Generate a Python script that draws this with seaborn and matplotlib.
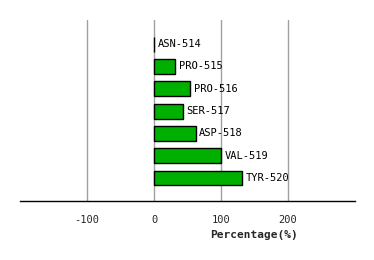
import matplotlib
matplotlib.use("Agg")
import matplotlib.pyplot as plt
import seaborn as sns
import pandas as pd

residues = ["ASN-514", "PRO-515", "PRO-516", "SER-517", "ASP-518", "VAL-519", "TYR-520"]
percentages = [0.5, 32, 54, 43, 62, 100, 132]
xticks = [-100, 0, 100, 200]

df = pd.DataFrame({"residue": residues, "pct": percentages})

sns.set_style("white")
plt.rcParams["font.family"] = ["DejaVu Sans Mono", "DejaVu Sans"]

fig = plt.figure(figsize=(3.74, 2.6), dpi=100)
ax = fig.add_axes([20/374, 59/260, 335/374, 181/260])

for x in xticks:
    ax.axvline(x, color="#a0a0a0", lw=1, zorder=0)

sns.barplot(data=df, x="pct", y="residue", orient="h", color="#00b000",
            edgecolor="black", linewidth=1, width=0.67, saturation=1, ax=ax, zorder=2)

for i, (r, v) in enumerate(zip(residues, percentages)):
    ax.text(v + 5.5, i, r, va="center", ha="left", fontsize=7.5, color="black")

ax.set_xlim(-200, 300)
ax.set_ylim(7.03, -1.08)
ax.set_xticks(xticks)
ax.set_xticklabels([str(t) for t in xticks], fontsize=7.5)
ax.set_yticks([])
ax.set_ylabel("")
ax.set_xlabel("Percentage(%)", fontsize=8, fontweight="bold")
ax.xaxis.set_label_coords(0.70, -0.16)
ax.tick_params(axis="x", length=0, pad=10)
for s in ["top", "left", "right"]:
    ax.spines[s].set_visible(False)
ax.spines["bottom"].set_color("black")
ax.spines["bottom"].set_linewidth(1)
ax.grid(False)

fig.savefig("out.png", dpi=100)
